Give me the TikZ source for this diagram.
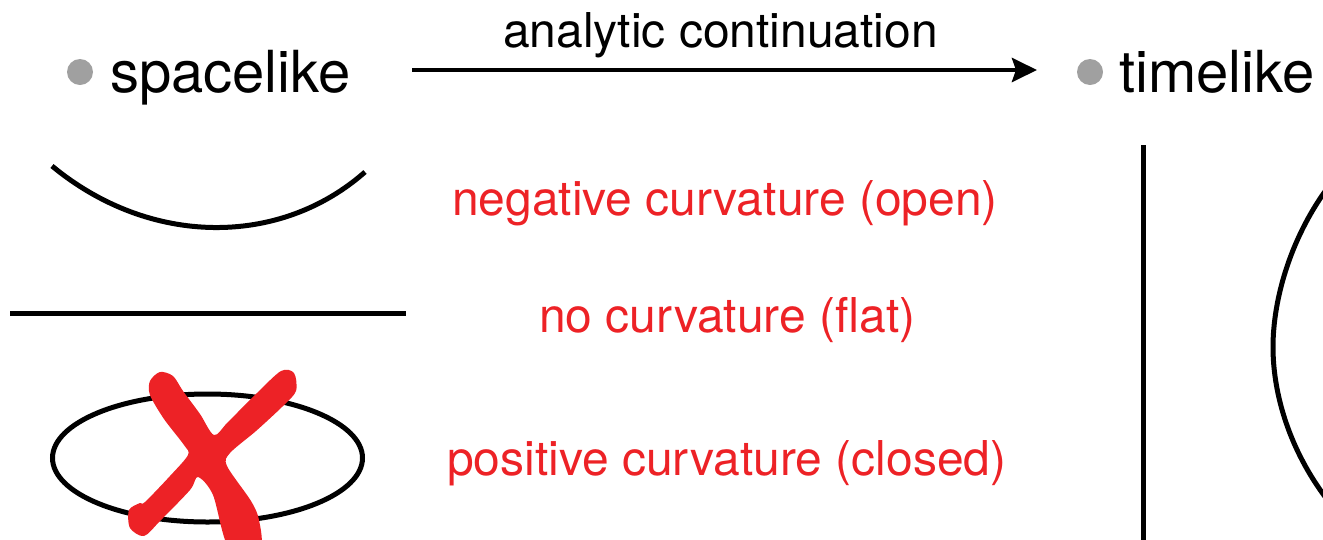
\documentclass[tikz,border=0pt]{standalone}
\usepackage{fontspec}
\setmainfont{TeX Gyre Heros}
\usetikzlibrary{arrows.meta}
\definecolor{xred}{RGB}{237,34,38}
\definecolor{dotgrey}{RGB}{160,160,160}
\tikzset{
  big/.style={anchor=base west,inner sep=0pt,font=\fontsize{58}{60}\selectfont},
  mid/.style={anchor=base west,inner sep=0pt,font=\fontsize{48}{52}\selectfont},
  redlabel/.style={mid,text=xred},
  curve/.style={line width=5pt},
  dot/.style={circle,fill=dotgrey,minimum size=26pt,inner sep=0pt},
}
\begin{document}
\begin{tikzpicture}[x=1pt,y=-1pt]
\useasboundingbox (0,0) rectangle (1323,539);
\clip (0,0) rectangle (1323,539);
% header
\node[dot] (d1) at (80,72) {};
\node[big] (sp) at (110,92) {spacelike};
\node[dot] (d2) at (1090,72) {};
\node[big] (tl) at (1119,92) {timelike};
\coordinate (a1) at (412,70);
\coordinate (a2) at (1037,70);
\draw[line width=4.5pt,-{Stealth[length=25pt,width=24pt,inset=4pt]}] (a1) -- (a2);
\node[mid] (ac) at (503,47) {analytic continuation};
% spacelike shapes
\draw[curve] (52,166) .. controls (150,247) and (280,247) .. (365,172);
\draw[curve] (10,313) -- (406,313);
\draw[curve] (207.5,458) ellipse [x radius=155,y radius=64];
% red X
\fill[xred] plot[smooth cycle,tension=0.5] coordinates {
 (150,395) (150,381) (160,372) (173,376) (183,391) (200,414) (214,435)
 (228,422) (257,393) (281,371) (294,373) (296,391) (283,406) (256,431)
 (230,453) (227,466) (251,501) (259,520) (260,548) (229,548) (213,495)
 (198,477) (190,490) (160,521) (144,536) (130,528) (129,510) (140,503)
 (145,502) (170,476) (188,455) (184,445) (164,419)};
% labels
\node[redlabel] (neg) at (452,215) {negative curvature (open)};
\node[redlabel] (flat) at (539,332) {no curvature (flat)};
\node[redlabel] (pos) at (447,475) {positive curvature (closed)};
% timelike shapes
\draw[curve] (1143,145) -- (1143,545);
\draw[curve] (1326,190) .. controls (1290,240) and (1273,300) .. (1273,347) .. controls (1273,395) and (1290,450) .. (1326,498);
\end{tikzpicture}
\end{document}
